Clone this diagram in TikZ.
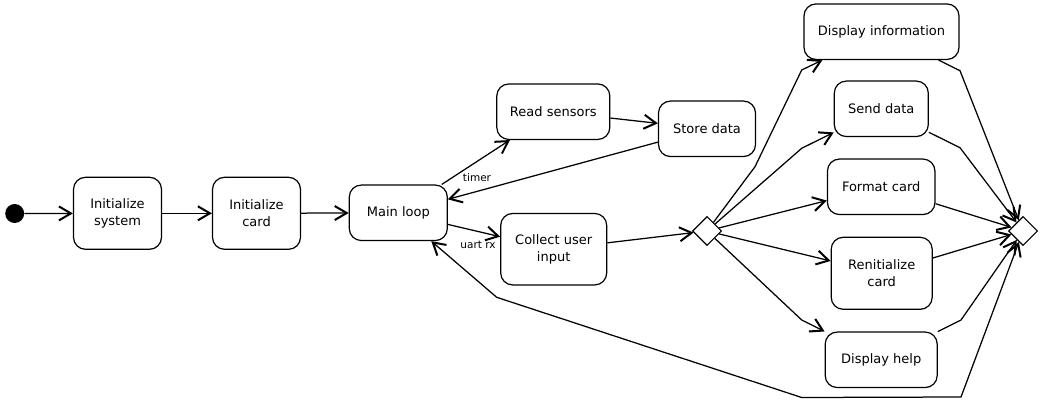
\documentclass[tikz,border=0pt]{standalone}
\usepackage{fontspec}
\setmainfont{DejaVu Sans}
\usetikzlibrary{arrows.meta,shapes.geometric}
\begin{document}
\begin{tikzpicture}[x=1pt,y=-1pt,
  act/.style={draw, line width=1.2pt, rounded corners=12pt, align=center, inner sep=0pt,
    minimum height=55.5pt, font=\fontsize{13}{17.5}\selectfont},
  dec/.style={draw, line width=1.1pt, diamond, minimum width=29pt, minimum height=29pt, inner sep=0pt},
  tip/.tip={Straight Barb[length=12pt,width=14pt,line width=2pt]},
  flow/.style={line width=1.25pt, -tip},
  biflow/.style={line width=1.25pt, tip-tip},
  lbl/.style={font=\fontsize{10.5}{12}\selectfont, inner sep=0pt}]
\useasboundingbox[fill=white] (0,0) rectangle (1043,404);

\node[circle, fill, inner sep=0pt, minimum size=19pt] (start) at (14.7,213.5) {};
\node[act, minimum width=88pt, minimum height=72pt] (isys) at (117.5,213.3) {Initialize\\system};
\node[act, minimum width=88pt, minimum height=72pt] (icard) at (256.5,213.3) {Initialize\\card};
\node[act, minimum width=98pt] (main) at (398.3,212.8) {Main loop};
\node[act, minimum width=113pt] (read) at (553.3,111.7) {Read sensors};
\node[act, minimum width=97pt] (store) at (707,128.8) {Store data};
\node[act, minimum width=106pt, minimum height=71.5pt] (collect) at (553.7,249.2) {Collect user\\input};
\node[dec] (d1) at (707,231) {};
\node[act, minimum width=155pt] (info) at (881.5,31.7) {Display information};
\node[act, minimum width=94pt] (send) at (881.3,108.8) {Send data};
\node[act, minimum width=107.5pt] (format) at (881.2,186.8) {Format card};
\node[act, minimum width=101pt, minimum height=72pt] (renit) at (881.7,273.3) {Renitialize\\card};
\node[act, minimum width=112pt] (help) at (881.2,359.8) {Display help};
\node[dec] (d2) at (1023,231) {};

\node[lbl] (ltimer) at (477,177.5) {timer};
\node[lbl] (luart) at (478,244.5) {uart rx};

\coordinate (bi1) at (755,166.7);
\coordinate (bi2) at (801.7,70);
\coordinate (bs1) at (801.7,148.3);
\coordinate (bh1) at (801.7,320);
\coordinate (mi1) at (960,70.7);
\coordinate (ms1) at (960,147.7);
\coordinate (mh1) at (961,320);
\coordinate (rb1) at (961,397);
\coordinate (rb2) at (801.7,397.5);
\coordinate (rb3) at (496.7,297.3);

\draw[flow] (start) -- (isys);
\draw[flow] (isys) -- (icard);
\draw[flow] (icard) -- (main);
\draw[flow] (main) -- (read);
\draw[flow] (read) -- (store);
\draw[flow] (store) -- (main);
\draw[flow] (main) -- (collect);
\draw[flow] (collect) -- (d1);

\draw[flow] (d1) -- (bi1) -- (bi2) -- (info);
\draw[flow] (d1) -- (bs1) -- (send);
\draw[flow] (d1) -- (format);
\draw[flow] (d1) -- (renit);
\draw[flow] (d1) -- (bh1) -- (help);

\draw[flow] (info) -- (mi1) -- (d2);
\draw[flow] (send) -- (ms1) -- (d2);
\draw[flow] (format) -- (d2);
\draw[flow] (renit) -- (d2);
\draw[flow] (help) -- (mh1) -- (d2);

\draw[biflow] (d2) -- (rb1) -- (rb2) -- (rb3) -- (main);
\end{tikzpicture}
\end{document}
